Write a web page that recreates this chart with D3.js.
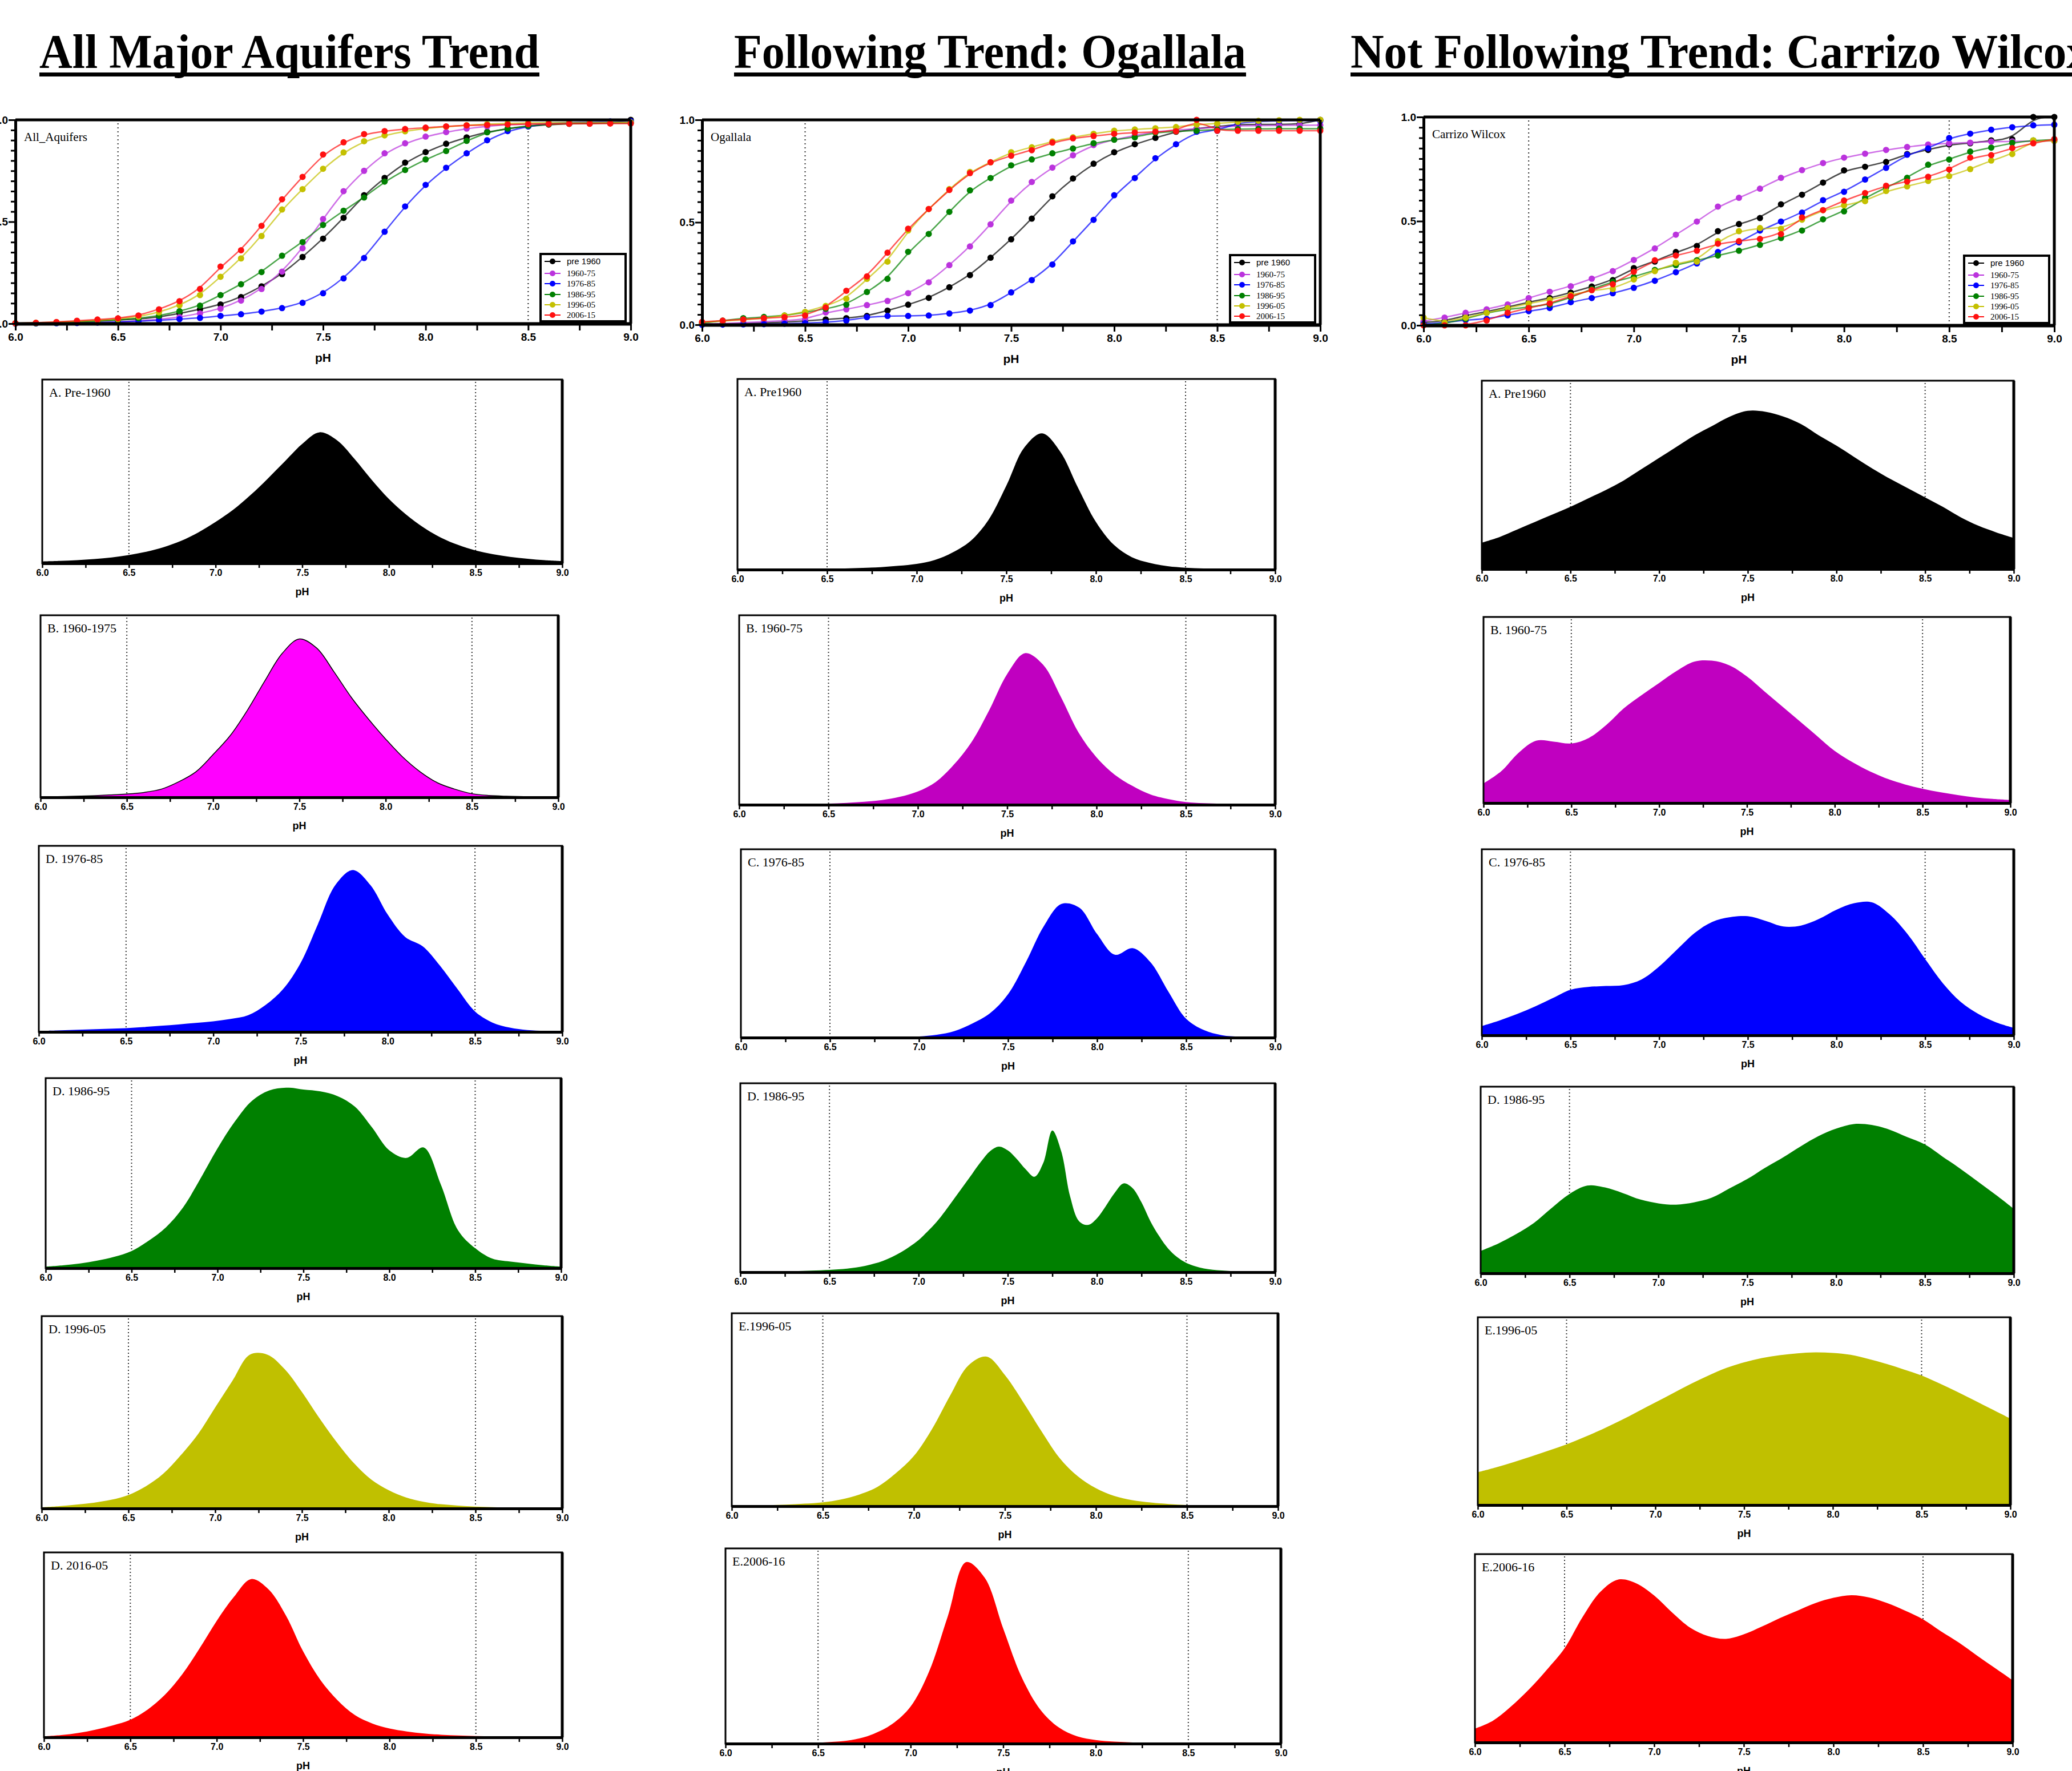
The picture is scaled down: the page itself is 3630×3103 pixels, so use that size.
<!DOCTYPE html>
<html>
<head>
<meta charset="UTF-8" />
<title>pH distribution trends in Texas aquifers</title>
<style>
  body { margin: 0; background: #fff; }
  svg { display: block; }
</style>
</head>
<body>
<script src="https://d3js.org/d3.v7.min.js"></script>
<script type="text/javascript">
// ---- categories ----
var seriesNames = ["pre 1960", "1960-75", "1976-85", "1986-95", "1996-05", "2006-15"];
var cdfColors = ["#000000", "#bb33dd", "#0000ff", "#008000", "#c4c000", "#ff1010"];
var refLines = [6.5, 8.5];
var quarterTicks = [6, 6.25, 6.5, 6.75, 7, 7.25, 7.5, 7.75, 8, 8.25, 8.5, 8.75, 9];
var yTicksCdf = [0, 0.05, 0.1, 0.15, 0.2, 0.25, 0.3, 0.35, 0.4, 0.45, 0.5,
                 0.55, 0.6, 0.65, 0.7, 0.75, 0.8, 0.85, 0.9, 0.95, 1];

// pH grid of the cumulative points and of the density curves
var cdfPH = [6.0, 6.1, 6.2, 6.3, 6.4, 6.5, 6.6, 6.7, 6.8, 6.9, 7.0, 7.1, 7.2, 7.3, 7.4, 7.5,
             7.6, 7.7, 7.8, 7.9, 8.0, 8.1, 8.2, 8.3, 8.4, 8.5, 8.6, 8.7, 8.8, 8.9, 9.0];
var densPH = cdfPH;
var densPHFine = [6.0, 6.05, 6.1, 6.15, 6.2, 6.25, 6.3, 6.35, 6.4, 6.45, 6.5, 6.55, 6.6, 6.65,
                  6.7, 6.75, 6.8, 6.85, 6.9, 6.95, 7.0, 7.05, 7.1, 7.15, 7.2, 7.25, 7.3, 7.35,
                  7.4, 7.45, 7.5, 7.55, 7.6, 7.65, 7.7, 7.75, 7.8, 7.85, 7.9, 7.95, 8.0, 8.05,
                  8.1, 8.15, 8.2, 8.25, 8.3, 8.35, 8.4, 8.45, 8.5, 8.55, 8.6, 8.65, 8.7, 8.75,
                  8.8, 8.85, 8.9, 8.95, 9.0];

// ---- cumulative fraction, all major aquifers ----
var allPre  = [0.002,0.003,0.004,0.01,0.014,0.018,0.022,0.032,0.05,0.07,0.094,0.13,0.183,0.243,0.327,0.417,0.519,0.63,0.715,0.79,0.842,0.883,0.914,0.941,0.957,0.968,0.977,0.981,0.983,0.984,1.0];
var all6075 = [0.001,0.002,0.003,0.004,0.006,0.008,0.014,0.02,0.032,0.05,0.073,0.113,0.17,0.255,0.37,0.513,0.65,0.75,0.836,0.885,0.918,0.94,0.957,0.968,0.977,0.98,0.983,0.984,0.985,0.986,0.986];
var all7685 = [0.0,0.001,0.002,0.003,0.005,0.008,0.012,0.016,0.022,0.028,0.038,0.046,0.059,0.076,0.102,0.149,0.222,0.322,0.451,0.575,0.681,0.765,0.836,0.9,0.945,0.968,0.982,0.987,0.99,0.992,0.994];
var all8695 = [0.001,0.002,0.004,0.007,0.012,0.018,0.026,0.038,0.061,0.088,0.14,0.193,0.253,0.333,0.4,0.484,0.554,0.619,0.697,0.754,0.806,0.847,0.897,0.939,0.957,0.971,0.978,0.981,0.983,0.984,0.985];
var all9605 = [0.002,0.004,0.007,0.011,0.016,0.022,0.034,0.055,0.09,0.14,0.23,0.32,0.43,0.56,0.66,0.76,0.84,0.895,0.924,0.944,0.958,0.967,0.974,0.979,0.983,0.985,0.986,0.987,0.987,0.988,0.988];
var all0615 = [0.002,0.004,0.008,0.014,0.02,0.026,0.04,0.07,0.11,0.17,0.28,0.36,0.48,0.61,0.72,0.83,0.89,0.93,0.945,0.955,0.962,0.968,0.973,0.975,0.977,0.979,0.98,0.981,0.981,0.982,0.982];

// ---- cumulative fraction, Ogallala ----
var ogPre  = [0.002,0.004,0.006,0.009,0.013,0.018,0.026,0.032,0.043,0.069,0.098,0.131,0.183,0.242,0.327,0.417,0.518,0.627,0.714,0.786,0.842,0.881,0.912,0.942,0.957,0.968,0.977,0.978,0.978,0.978,1.0];
var og6075 = [0.003,0.006,0.01,0.015,0.02,0.026,0.06,0.075,0.096,0.116,0.154,0.207,0.291,0.382,0.49,0.606,0.697,0.767,0.827,0.877,0.904,0.924,0.942,0.95,0.957,0.965,0.97,0.972,0.973,0.974,0.974];
var og7685 = [0.0,0.001,0.002,0.003,0.005,0.008,0.012,0.02,0.037,0.043,0.043,0.045,0.055,0.069,0.096,0.158,0.218,0.294,0.407,0.512,0.632,0.716,0.813,0.881,0.942,0.947,0.986,0.992,0.995,0.998,0.995];
var og8695 = [0.008,0.02,0.032,0.038,0.045,0.06,0.078,0.098,0.16,0.224,0.356,0.443,0.551,0.656,0.716,0.778,0.807,0.837,0.86,0.886,0.903,0.915,0.938,0.944,0.947,0.953,0.955,0.956,0.957,0.957,0.957];
var og9605 = [0.012,0.018,0.025,0.032,0.045,0.063,0.092,0.127,0.224,0.308,0.46,0.565,0.662,0.746,0.793,0.842,0.866,0.895,0.915,0.932,0.947,0.953,0.959,0.965,0.977,0.982,0.99,0.995,0.998,1.0,1.0];
var og0615 = [0.014,0.02,0.026,0.032,0.037,0.045,0.084,0.166,0.236,0.352,0.469,0.565,0.658,0.74,0.793,0.825,0.852,0.889,0.91,0.921,0.932,0.938,0.942,0.944,1.0,0.947,0.947,0.947,0.947,0.947,0.947];

// ---- cumulative fraction, Carrizo Wilcox ----
var cwPre  = [0.014,0.02,0.048,0.065,0.088,0.111,0.131,0.157,0.186,0.217,0.275,0.306,0.352,0.381,0.452,0.486,0.515,0.581,0.627,0.685,0.744,0.761,0.784,0.822,0.842,0.868,0.874,0.888,0.893,1.0,1.0];
var cw6075 = [0.02,0.037,0.06,0.077,0.1,0.131,0.161,0.188,0.224,0.26,0.314,0.369,0.435,0.498,0.57,0.612,0.656,0.708,0.745,0.779,0.805,0.824,0.842,0.856,0.868,0.874,0.877,0.882,0.883,0.884,0.885];
var cw7685 = [0.006,0.014,0.025,0.031,0.048,0.068,0.083,0.111,0.131,0.154,0.18,0.214,0.255,0.297,0.352,0.398,0.455,0.498,0.541,0.601,0.641,0.7,0.756,0.819,0.849,0.899,0.92,0.939,0.951,0.96,0.963];
var cw8695 = [0.002,0.008,0.031,0.06,0.077,0.088,0.1,0.134,0.174,0.209,0.232,0.266,0.289,0.312,0.335,0.358,0.386,0.419,0.455,0.509,0.547,0.612,0.662,0.708,0.771,0.796,0.834,0.853,0.876,0.888,0.891];
var cw9605 = [0.037,0.014,0.037,0.06,0.083,0.105,0.123,0.146,0.169,0.174,0.22,0.26,0.3,0.306,0.404,0.452,0.467,0.463,0.507,0.553,0.576,0.596,0.645,0.667,0.693,0.716,0.75,0.791,0.822,0.888,0.885];
var cw0615 = [0.0,0.0,0.0,0.023,0.06,0.083,0.105,0.14,0.169,0.197,0.257,0.312,0.335,0.358,0.392,0.404,0.415,0.438,0.518,0.553,0.599,0.635,0.67,0.69,0.713,0.748,0.805,0.817,0.851,0.874,0.894];

// ---- density curves (fraction of panel height) ----
var allDensPre  = [0.01,0.013,0.017,0.023,0.032,0.045,0.063,0.088,0.122,0.168,0.225,0.29,0.37,0.46,0.555,0.65,0.713,0.67,0.57,0.455,0.35,0.265,0.195,0.14,0.1,0.07,0.05,0.035,0.025,0.017,0.012];
var allDens6075 = [0.002,0.004,0.006,0.009,0.013,0.018,0.027,0.045,0.085,0.14,0.235,0.34,0.48,0.64,0.79,0.87,0.82,0.69,0.55,0.43,0.32,0.22,0.14,0.08,0.045,0.02,0.01,0.006,0.004,0.002,0.001];
var allDens7685 = [0.005,0.008,0.011,0.014,0.017,0.02,0.026,0.033,0.04,0.048,0.057,0.07,0.09,0.145,0.23,0.37,0.58,0.79,0.87,0.79,0.63,0.51,0.46,0.355,0.23,0.11,0.05,0.023,0.01,0.005,0.003];
var allDens8695 = [0.008,0.015,0.025,0.04,0.06,0.09,0.145,0.215,0.32,0.47,0.63,0.77,0.88,0.935,0.95,0.94,0.93,0.905,0.85,0.74,0.62,0.58,0.635,0.44,0.2,0.105,0.05,0.035,0.025,0.015,0.008];
var allDens9605 = [0.006,0.012,0.02,0.03,0.045,0.07,0.115,0.18,0.275,0.385,0.525,0.665,0.8,0.8,0.725,0.605,0.47,0.345,0.235,0.15,0.095,0.057,0.035,0.022,0.015,0.01,0.007,0.005,0.004,0.003,0.003];
var allDens0615 = [0.005,0.012,0.024,0.042,0.065,0.095,0.15,0.23,0.34,0.48,0.63,0.76,0.856,0.8,0.66,0.465,0.31,0.2,0.12,0.075,0.048,0.032,0.021,0.014,0.01,0.007,0.005,0.004,0.003,0.002,0.002];

var ogDensPre  = [0.001,0.001,0.001,0.002,0.003,0.004,0.006,0.009,0.013,0.02,0.03,0.05,0.09,0.15,0.26,0.44,0.64,0.715,0.62,0.43,0.25,0.13,0.065,0.035,0.018,0.01,0.006,0.004,0.003,0.002,0.001];
var ogDens6075 = [0,0.001,0.002,0.003,0.004,0.006,0.01,0.016,0.025,0.042,0.07,0.12,0.21,0.33,0.5,0.69,0.8,0.74,0.57,0.38,0.25,0.16,0.1,0.055,0.03,0.014,0.008,0.005,0.003,0.002,0.001];
var ogDens7685 = [0.001,0.001,0.001,0.001,0.001,0.002,0.002,0.002,0.003,0.004,0.006,0.015,0.035,0.075,0.13,0.23,0.4,0.59,0.71,0.69,0.55,0.44,0.475,0.4,0.245,0.1,0.04,0.013,0.005,0.002,0.001];
var ogDens8695 = [0.002,0.002,0.003,0.003,0.004,0.005,0.006,0.007,0.008,0.01,0.012,0.015,0.019,0.025,0.033,0.045,0.06,0.08,0.105,0.135,0.17,0.215,0.265,0.325,0.39,0.455,0.52,0.585,0.64,0.665,0.645,0.6,0.545,0.505,0.58,0.75,0.64,0.4,0.27,0.25,0.285,0.35,0.42,0.47,0.445,0.37,0.27,0.19,0.125,0.08,0.05,0.032,0.02,0.013,0.009,0.006,0.004,0.003,0.002,0.002,0.001];
var ogDens9605 = [0.002,0.003,0.005,0.008,0.013,0.02,0.035,0.06,0.1,0.17,0.26,0.4,0.575,0.73,0.775,0.68,0.54,0.39,0.25,0.155,0.093,0.053,0.031,0.019,0.011,0.006,0.004,0.003,0.002,0.001,0.001];
var ogDens0615 = [0.001,0.001,0.001,0.002,0.003,0.005,0.01,0.022,0.05,0.1,0.19,0.37,0.65,0.93,0.85,0.59,0.34,0.175,0.083,0.037,0.018,0.01,0.006,0.004,0.003,0.002,0.001,0.001,0.001,0.001,0.001];

var cwDensPre  = [0.14,0.17,0.21,0.25,0.29,0.33,0.375,0.42,0.47,0.53,0.59,0.65,0.71,0.76,0.81,0.84,0.835,0.81,0.77,0.71,0.655,0.595,0.535,0.48,0.43,0.38,0.33,0.275,0.23,0.195,0.165];
var cwDens6075 = [0.105,0.17,0.27,0.335,0.33,0.32,0.35,0.42,0.51,0.58,0.645,0.71,0.76,0.765,0.74,0.68,0.6,0.52,0.44,0.36,0.28,0.22,0.17,0.13,0.1,0.077,0.058,0.043,0.03,0.022,0.016];
var cwDens7685 = [0.05,0.08,0.115,0.155,0.2,0.245,0.26,0.265,0.27,0.3,0.37,0.46,0.55,0.61,0.635,0.64,0.615,0.585,0.59,0.625,0.675,0.71,0.715,0.65,0.545,0.41,0.28,0.18,0.115,0.07,0.04];
var cwDens8695 = [0.12,0.16,0.21,0.27,0.35,0.425,0.47,0.46,0.43,0.395,0.375,0.368,0.38,0.405,0.455,0.505,0.565,0.62,0.68,0.735,0.775,0.8,0.795,0.77,0.73,0.69,0.625,0.56,0.49,0.42,0.346];
var cwDens9605 = [0.175,0.2,0.228,0.258,0.29,0.323,0.362,0.403,0.448,0.497,0.546,0.596,0.645,0.69,0.73,0.76,0.783,0.798,0.808,0.813,0.81,0.8,0.778,0.752,0.722,0.69,0.648,0.603,0.556,0.508,0.46];
var cwDens0615 = [0.073,0.115,0.19,0.28,0.385,0.5,0.665,0.8,0.865,0.845,0.78,0.69,0.61,0.565,0.55,0.574,0.615,0.66,0.7,0.74,0.768,0.782,0.77,0.74,0.7,0.654,0.59,0.53,0.462,0.396,0.33];

// ---- layout ----
var serif = "'Liberation Serif', 'Times New Roman', serif";
var sansNarrow = "'Liberation Sans Narrow', 'Liberation Sans', Arial, sans-serif";

var titles = [
    { text: "All Major Aquifers Trend", x: 69, w: 876 },
    { text: "Following Trend: Ogallala", x: 1286, w: 897 },
    { text: "Not Following Trend: Carrizo Wilcox", x: 2366, w: 1295 }
];

var cdfCharts = [
    { name: "All_Aquifers", left: 27, right: 1105, top: 210, bottom: 567,
      series: [allPre, all6075, all7685, all8695, all9605, all0615] },
    { name: "Ogallala", left: 1230, right: 2313, top: 210, bottom: 569,
      series: [ogPre, og6075, og7685, og8695, og9605, og0615] },
    { name: "Carrizo Wilcox", left: 2494, right: 3599, top: 205, bottom: 570,
      series: [cwPre, cw6075, cw7685, cw8695, cw9605, cw0615] }
];

var panels = [
    { label: "A. Pre-1960", color: "#000000", left: 74, right: 985, top: 665, bottom: 987, ph: densPH, values: allDensPre },
    { label: "B. 1960-1975", color: "#ff00ff", outline: true, left: 71, right: 978, top: 1078, bottom: 1397, ph: densPH, values: allDens6075 },
    { label: "D. 1976-85", color: "#0000ff", left: 68, right: 985, top: 1482, bottom: 1808, ph: densPH, values: allDens7685 },
    { label: "D. 1986-95", color: "#008000", left: 80, right: 983, top: 1889, bottom: 2222, ph: densPH, values: allDens8695 },
    { label: "D. 1996-05", color: "#c0c000", left: 73, right: 985, top: 2306, bottom: 2643, ph: densPH, values: allDens9605 },
    { label: "D. 2016-05", color: "#ff0000", left: 77, right: 985, top: 2720, bottom: 3044, ph: densPH, values: allDens0615 },

    { label: "A. Pre1960", color: "#000000", left: 1292, right: 2234, top: 664, bottom: 998, ph: densPH, values: ogDensPre },
    { label: "B. 1960-75", color: "#c000c0", left: 1295, right: 2234, top: 1078, bottom: 1410, ph: densPH, values: ogDens6075 },
    { label: "C. 1976-85", color: "#0000ff", left: 1298, right: 2234, top: 1488, bottom: 1818, ph: densPH, values: ogDens7685 },
    { label: "D. 1986-95", color: "#008000", left: 1297, right: 2234, top: 1898, bottom: 2229, ph: densPHFine, values: ogDens8695 },
    { label: "E.1996-05", color: "#c0c000", left: 1282, right: 2239, top: 2301, bottom: 2639, ph: densPH, values: ogDens9605 },
    { label: "E.2006-16", color: "#ff0000", left: 1271, right: 2244, top: 2713, bottom: 3055, ph: densPH, values: ogDens0615 },

    { label: "A. Pre1960", color: "#000000", left: 2596, right: 3528, top: 667, bottom: 997, ph: densPH, values: cwDensPre },
    { label: "B. 1960-75", color: "#c000c0", left: 2599, right: 3522, top: 1081, bottom: 1407, ph: densPH, values: cwDens6075 },
    { label: "C. 1976-85", color: "#0000ff", left: 2596, right: 3528, top: 1488, bottom: 1814, ph: densPH, values: cwDens7685 },
    { label: "D. 1986-95", color: "#008000", left: 2594, right: 3528, top: 1904, bottom: 2231, ph: densPH, values: cwDens8695 },
    { label: "E.1996-05", color: "#c0c000", left: 2589, right: 3522, top: 2308, bottom: 2637, ph: densPH, values: cwDens9605 },
    { label: "E.2006-16", color: "#ff0000", left: 2584, right: 3526, top: 2723, bottom: 3053, ph: densPH, values: cwDens0615 }
];

function halfLabel(d) {
    return Math.abs(d * 2 - Math.round(d * 2)) < 1e-6 ? d.toFixed(1) : "";
}

var svg = d3.select("body").append("svg")
    .attr("width", 3630)
    .attr("height", 3103)
    .style("background", "#fff");

// Titles
titles.forEach(function(t) {
    svg.append("text")
        .attr("x", t.x)
        .attr("y", 119)
        .attr("textLength", t.w)
        .attr("lengthAdjust", "spacingAndGlyphs")
        .style("font-family", serif)
        .style("font-weight", "bold")
        .style("font-size", "84px")
        .text(t.text);
    svg.append("rect")
        .attr("x", t.x)
        .attr("y", 127)
        .attr("width", t.w)
        .attr("height", 7)
        .attr("fill", "#000");
});

// Cumulative charts
function drawCdf(c) {
    var x = d3.scaleLinear().domain([6, 9]).range([c.left, c.right]);
    var y = d3.scaleLinear().domain([0, 1]).range([c.bottom, c.top]);
    var g = svg.append("g");

    refLines.forEach(function(v) {
        g.append("line")
            .attr("x1", x(v)).attr("x2", x(v))
            .attr("y1", y(1) + 6).attr("y2", y(0))
            .attr("stroke", "#222")
            .attr("stroke-width", 2)
            .attr("stroke-dasharray", "2,5");
    });

    var line = d3.line()
        .x(function(d) { return x(d[0]); })
        .y(function(d) { return y(d[1]); })
        .curve(d3.curveBasis);

    c.series.forEach(function(vals, i) {
        var pts = cdfPH.map(function(p, j) { return [p, vals[j]]; });
        g.append("path")
            .datum(pts)
            .attr("d", line)
            .attr("fill", "none")
            .attr("stroke", cdfColors[i])
            .attr("stroke-width", 2.5)
            .attr("stroke-opacity", 0.7);
    });
    c.series.forEach(function(vals, i) {
        g.append("g").selectAll("circle")
            .data(cdfPH.map(function(p, j) { return [p, vals[j]]; }))
            .join("circle")
            .attr("cx", function(d) { return x(d[0]); })
            .attr("cy", function(d) { return y(d[1]); })
            .attr("r", 5.5)
            .attr("fill", cdfColors[i]);
    });

    // frame
    g.append("line")
        .attr("x1", c.left).attr("x2", c.right)
        .attr("y1", y(1)).attr("y2", y(1))
        .attr("stroke", "#000").attr("stroke-width", 5);
    g.append("line")
        .attr("x1", c.right).attr("x2", c.right)
        .attr("y1", y(1)).attr("y2", y(0))
        .attr("stroke", "#000").attr("stroke-width", 5);

    var ax = g.append("g")
        .attr("transform", "translate(0," + c.bottom + ")")
        .call(d3.axisBottom(x).tickValues(quarterTicks).tickSize(12).tickSizeOuter(0).tickFormat(halfLabel));
    ax.select(".domain").attr("stroke-width", 6);
    ax.selectAll(".tick line").attr("stroke-width", 3);
    ax.selectAll(".tick text")
        .attr("y", 17)
        .style("font-family", sansNarrow)
        .style("font-weight", "bold")
        .style("font-size", "19px");

    var ay = g.append("g")
        .attr("transform", "translate(" + c.left + ",0)")
        .call(d3.axisLeft(y).tickValues(yTicksCdf).tickSizeOuter(0)
            .tickFormat(function(d) { return halfLabel(d); }));
    ay.select(".domain").attr("stroke-width", 5);
    ay.selectAll(".tick line")
        .attr("stroke-width", 3)
        .attr("x2", function(d) { return halfLabel(d) ? -12 : -8; });
    ay.selectAll(".tick text")
        .attr("x", -13)
        .style("font-family", sansNarrow)
        .style("font-weight", "bold")
        .style("font-size", "19px");

    g.append("text")
        .attr("x", (c.left + c.right) / 2)
        .attr("y", c.bottom + 67)
        .attr("text-anchor", "middle")
        .style("font-family", sansNarrow)
        .style("font-weight", "bold")
        .style("font-size", "21px")
        .text("pH");

    g.append("text")
        .attr("x", c.left + 15)
        .attr("y", c.top + 37)
        .style("font-family", serif)
        .style("font-size", "21px")
        .text(c.name);

    // legend
    var lx = c.right - 158, ly = c.bottom - 122;
    var lg = g.append("g").attr("transform", "translate(" + lx + "," + ly + ")");
    lg.append("rect")
        .attr("width", 149).attr("height", 118)
        .attr("fill", "#fff")
        .attr("stroke", "#000").attr("stroke-width", 4);
    var rowY = [13, 34, 52, 71, 89, 107];
    seriesNames.forEach(function(s, i) {
        var row = lg.append("g").attr("transform", "translate(0," + rowY[i] + ")");
        row.append("line")
            .attr("x1", 7).attr("x2", 35)
            .attr("stroke", cdfColors[i]).attr("stroke-width", 2);
        row.append("circle").attr("cx", 21).attr("r", 5).attr("fill", cdfColors[i]);
        row.append("text")
            .attr("x", 46).attr("y", 5)
            .style("font-family", i === 0 ? sansNarrow : serif)
            .style("font-size", "15px")
            .text(s);
    });
}

cdfCharts.forEach(drawCdf);

// Density panels
function drawPanel(p) {
    var x = d3.scaleLinear().domain([6, 9]).range([p.left, p.right]);
    var y = d3.scaleLinear().domain([0, 1]).range([p.bottom, p.top]);
    var g = svg.append("g");
    var curve = d3.curveCatmullRom.alpha(0.5);

    refLines.forEach(function(v) {
        g.append("line")
            .attr("x1", x(v)).attr("x2", x(v))
            .attr("y1", p.top + 4).attr("y2", p.bottom)
            .attr("stroke", "#333")
            .attr("stroke-width", 2)
            .attr("stroke-dasharray", "2,4");
    });

    var pts = p.ph.map(function(v, i) { return [v, p.values[i]]; });
    g.append("path")
        .datum(pts)
        .attr("fill", p.color)
        .attr("d", d3.area()
            .x(function(d) { return x(d[0]); })
            .y0(p.bottom)
            .y1(function(d) { return y(d[1]); })
            .curve(curve));
    if (p.outline) {
        g.append("path")
            .datum(pts)
            .attr("fill", "none")
            .attr("stroke", "#000")
            .attr("stroke-width", 1.5)
            .attr("d", d3.line()
                .x(function(d) { return x(d[0]); })
                .y(function(d) { return y(d[1]); })
                .curve(curve));
    }

    g.append("rect")
        .attr("x", p.left).attr("y", p.top)
        .attr("width", p.right - p.left).attr("height", p.bottom - p.top)
        .attr("fill", "none")
        .attr("stroke", "#000").attr("stroke-width", 3);
    g.append("line")
        .attr("x1", p.right).attr("x2", p.right)
        .attr("y1", p.top).attr("y2", p.bottom)
        .attr("stroke", "#000").attr("stroke-width", 5);

    var ax = g.append("g")
        .attr("transform", "translate(0," + p.bottom + ")")
        .call(d3.axisBottom(x).tickValues(quarterTicks).tickSize(8).tickSizeOuter(0).tickFormat(halfLabel));
    ax.select(".domain").attr("stroke-width", 5);
    ax.selectAll(".tick line").attr("stroke-width", 2.5);
    ax.selectAll(".tick text")
        .style("font-family", sansNarrow)
        .style("font-weight", "bold")
        .style("font-size", "16px");

    g.append("text")
        .attr("x", (p.left + p.right) / 2)
        .attr("y", p.bottom + 56)
        .attr("text-anchor", "middle")
        .style("font-family", sansNarrow)
        .style("font-weight", "bold")
        .style("font-size", "18px")
        .text("pH");

    g.append("text")
        .attr("x", p.left + 12)
        .attr("y", p.top + 30)
        .style("font-family", serif)
        .style("font-size", "22px")
        .text(p.label);
}

panels.forEach(drawPanel);
</script>
</body>
</html>
